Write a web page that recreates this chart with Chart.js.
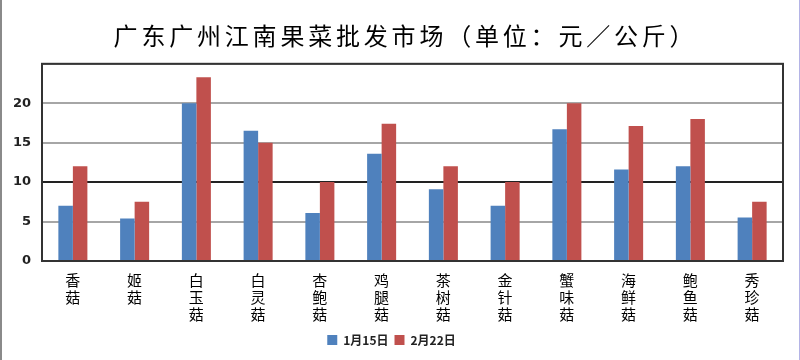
<!DOCTYPE html>
<html>
<head>
<meta charset="utf-8">
<script src="https://cdn.jsdelivr.net/npm/chart.js@4"></script>
<style>
  html, body { margin: 0; padding: 0; background: #fff; }
  #wrap { width: 800px; height: 360px; position: relative; }
</style>
</head>
<body>
<div id="wrap"><canvas id="mushroomChart"></canvas></div>
<script>
const categories = ["香菇", "姬菇", "白玉菇", "白灵菇", "杏鲍菇", "鸡腿菇", "茶树菇", "金针菇", "蟹味菇", "海鲜菇", "鲍鱼菇", "秀珍菇"];
const jan15 = [7, 5.4, 20, 16.5, 6.1, 13.6, 9.1, 7, 16.7, 11.6, 12, 5.5];
const feb22 = [12, 7.5, 23.3, 15, 10, 17.4, 12, 10, 20, 17.1, 18, 7.5];
const yTicks = [0, 5, 10, 15, 20];

const cjk = '"Noto Sans CJK SC", "Noto Sans", sans-serif';

// outer frame lines on the left and right edges, plus the plot box
const framePlugin = {
    id: "frame",
    afterInit(chart) {
        // the title in the picture is spaced out
        const t = chart.titleBlock;
        if (t) {
            const draw = t.draw.bind(t);
            t.draw = function () {
                const c = t.ctx;
                c.save();
                c.letterSpacing = "3.8px";
                c.translate(14, 0);
                draw();
                c.restore();
            };
        }
    },
    afterDraw(chart) {
        const ctx = chart.ctx;
        ctx.save();
        ctx.fillStyle = "#8a8a8a";
        ctx.fillRect(0, 0, 2, chart.height);
        ctx.fillStyle = "#b4b4e6";
        ctx.fillRect(chart.width - 1, 0, 1, chart.height);
        const a = chart.chartArea;
        ctx.strokeStyle = "#333";
        ctx.lineWidth = 2;
        ctx.strokeRect(a.left, a.top, a.right - a.left, a.bottom - a.top);
        ctx.restore();
    }
};

document.addEventListener("DOMContentLoaded", function () {
    const ctx = document.getElementById("mushroomChart").getContext("2d");

    new Chart(ctx, {
        type: "bar",
        data: {
            labels: categories.map(c => c.split("")),
            datasets: [{
                label: "1月15日",
                data: jan15,
                backgroundColor: "#4f81bd",
                borderWidth: 0
            }, {
                label: "2月22日",
                data: feb22,
                backgroundColor: "#c0504d",
                borderWidth: 0
            }]
        },
        options: {
            responsive: true,
            maintainAspectRatio: false,
            animation: false,
            layout: { padding: { left: 0, right: 17, top: 0, bottom: 4 } },
            datasets: {
                bar: { categoryPercentage: 0.47, barPercentage: 1.0 }
            },
            plugins: {
                title: {
                    display: true,
                    text: "广东广州江南果菜批发市场（单位：元／公斤）",
                    color: "#000",
                    font: { family: cjk, size: 24, weight: "normal" },
                    padding: { top: 21, bottom: 14 }
                },
                legend: {
                    position: "bottom",
                    labels: {
                        boxWidth: 10,
                        boxHeight: 10,
                        padding: 6,
                        color: "#222",
                        font: { family: cjk, size: 12, weight: "bold" }
                    }
                },
                tooltip: { enabled: false }
            },
            scales: {
                x: {
                    afterFit(scale) { scale.height = 67; },
                    grid: { display: false, drawTicks: false },
                    border: { display: true, color: "#333", width: 2 },
                    ticks: {
                        color: "#000",
                        padding: 11,
                        maxRotation: 0,
                        autoSkip: false,
                        font: { family: cjk, size: 15, lineHeight: "17px" }
                    }
                },
                y: {
                    min: 0,
                    max: 25,
                    afterFit(scale) { scale.width = 42; },
                    afterBuildTicks(scale) {
                        scale.ticks = yTicks.concat([25]).map(v => ({ value: v }));
                    },
                    grid: {
                        drawTicks: false,
                        lineWidth: 2,
                        color: c => c.tick.value === 10 ? "#222" : "#a6a6a6"
                    },
                    border: { display: true, color: "#333", width: 2 },
                    ticks: {
                        color: "#222",
                        padding: 11,
                        font: { family: "'DejaVu Sans', sans-serif", size: 13, weight: "bold" },
                        callback: v => yTicks.includes(v) ? String(v) : ""
                    }
                }
            }
        },
        plugins: [framePlugin]
    });
});
</script>
</body>
</html>
